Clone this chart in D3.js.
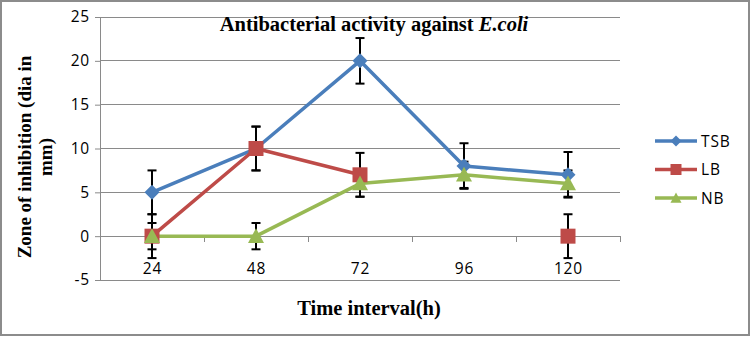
<!DOCTYPE html>
<html><head><meta charset="utf-8">
<script src="https://cdn.jsdelivr.net/npm/d3@7"></script>
<style>body{margin:0;background:#fff}svg{display:block}</style>
</head><body>
<script>
const categories = ["24", "48", "72", "96", "120"];
const tsbValues = [5, 10, 20, 8, 7];
const tsbErrors = [2.5, 2.5, 2.6, 2.6, 2.6];
const lbValues = [0, 10, 7, null, 0];
const lbErrors = [2.5, 2.5, 2.5, null, 2.5];
const nbValues = [0, 0, 6, 7, 6];
const nbErrors = [1.5, 1.5, 1.5, 1.5, 1.5];
const yTicks = [-5, 0, 5, 10, 15, 20, 25];
const seriesNames = ["TSB", "LB", "NB"];

(function () {
const W = 751, H = 337;
const sans = "'Open Sans', Lato, sans-serif";
const serif = "'Liberation Serif', 'Times New Roman', serif";
const svg = d3.select("body").append("svg").attr("width", W).attr("height", H);
svg.append("rect").attr("x", 1).attr("y", 1).attr("width", W - 3).attr("height", H - 3)
  .attr("fill", "#fff").attr("stroke", "#8c8c8c").attr("stroke-width", 2);

const pLeft = 100, pRight = 620, pTop = 17, pBottom = 280;
const x = d3.scaleBand().domain(categories).range([pLeft, pRight]);
const y = d3.scaleLinear().domain([-5, 25]).range([pBottom, pTop]);
const grid = "#8a8a8a";

// gridlines
svg.append("g").selectAll("line").data(yTicks).join("line")
  .attr("x1", pLeft).attr("x2", pRight).attr("y1", d => y(d)).attr("y2", d => y(d))
  .attr("stroke", grid).attr("stroke-width", 1).attr("shape-rendering", "crispEdges");
// y axis
const yAxis = d3.axisLeft(y).tickValues(yTicks).tickFormat(d => String(d)).tickSize(5).tickPadding(5);
const yg = svg.append("g").attr("transform", `translate(${pLeft},0)`).call(yAxis);
yg.select(".domain").attr("stroke", grid);
yg.selectAll(".tick line").attr("stroke", grid);
yg.selectAll("text").attr("font-family", sans).attr("font-size", 15.5).attr("letter-spacing", 0.8).attr("fill", "#000");

// x axis line at 0
svg.append("line").attr("x1", pLeft).attr("x2", pRight).attr("y1", y(0)).attr("y2", y(0))
  .attr("stroke", grid).attr("shape-rendering", "crispEdges");
const bounds = categories.map(c => x(c)).concat([pRight]);
svg.append("g").selectAll("line").data(bounds).join("line")
  .attr("x1", d => d).attr("x2", d => d).attr("y1", y(0)).attr("y2", y(0) + 6)
  .attr("stroke", grid).attr("shape-rendering", "crispEdges");
svg.append("g").selectAll("text").data(categories).join("text")
  .attr("x", d => x(d) + x.bandwidth() / 2 + 0.4).attr("y", 274)
  .attr("text-anchor", "middle").attr("font-family", sans).attr("letter-spacing", 0.8)
  .attr("font-size", 15.5).text(d => d);

const series = [
  {name: seriesNames[0], values: tsbValues, errors: tsbErrors, color: "#4a7ebb", marker: "diamond"},
  {name: seriesNames[1], values: lbValues, errors: lbErrors, color: "#be4b48", marker: "square"},
  {name: seriesNames[2], values: nbValues, errors: nbErrors, color: "#98b954", marker: "triangle"}
];
const cx = i => x(categories[i]) + x.bandwidth() / 2;

// error bars
const eg = svg.append("g");
series.forEach(s => {
  s.values.forEach((v, i) => {
    if (v == null || s.errors[i] == null) return;
    const hi = y(v + s.errors[i]), lo = y(v - s.errors[i]), c = cx(i);
    eg.append("line").attr("x1", c).attr("x2", c).attr("y1", hi).attr("y2", lo).attr("stroke", "#000").attr("stroke-width", 2);
    [hi, lo].forEach(yy => eg.append("line").attr("x1", c - 4.5).attr("x2", c + 4.5).attr("y1", yy).attr("y2", yy).attr("stroke", "#000").attr("stroke-width", 2));
  });
});

const line = d3.line().defined(d => d.v != null).x(d => cx(d.i)).y(d => y(d.v));
function markerPath(type, size) {
  const h = size / 2;
  if (type === "diamond") return `M0,${-h}L${h},0L0,${h}L${-h},0Z`;
  if (type === "square") return `M${-h},${-h}H${h}V${h}H${-h}Z`;
  return `M0,${-h}L${h},${h * 0.85}L${-h},${h * 0.85}Z`;
}
const sizes = {diamond: 15, square: 15, triangle: 16};
series.forEach(s => {
  const pts = s.values.map((v, i) => ({v, i}));
  svg.append("path").datum(pts).attr("d", line).attr("fill", "none")
    .attr("stroke", s.color).attr("stroke-width", 3.5).attr("stroke-linejoin", "round");
});
series.forEach(s => {
  svg.append("g").selectAll("path").data(s.values.map((v, i) => ({v, i})).filter(d => d.v != null)).join("path")
    .attr("transform", d => `translate(${cx(d.i)},${y(d.v)})`)
    .attr("d", markerPath(s.marker, sizes[s.marker])).attr("fill", s.color);
});

// legend
const lg = svg.append("g");
series.forEach((s, k) => {
  const ly = 141 + k * 28.5;
  lg.append("line").attr("x1", 655).attr("x2", 697).attr("y1", ly).attr("y2", ly).attr("stroke", s.color).attr("stroke-width", 3.5);
  lg.append("path").attr("transform", `translate(676,${ly})`).attr("d", markerPath(s.marker, 11)).attr("fill", s.color);
  lg.append("text").attr("x", 701).attr("y", ly + 5.5).attr("font-family", sans).attr("font-size", 15.5)
    .attr("letter-spacing", 0.9).text(s.name);
});

// title
const t = svg.append("text").attr("x", 374).attr("y", 31).attr("text-anchor", "middle")
  .attr("font-family", serif).attr("font-size", 20.5).attr("font-weight", "bold");
t.append("tspan").text("Antibacterial activity against ");
t.append("tspan").attr("font-style", "italic").text("E.coli");

// axis titles
svg.append("text").attr("x", 369).attr("y", 315).attr("text-anchor", "middle")
  .attr("font-family", serif).attr("font-size", 20.5).attr("font-weight", "bold")
  .text("Time interval(h)");
const yl = svg.append("text").attr("transform", "translate(31,157) rotate(-90)").attr("text-anchor", "middle")
  .attr("font-family", serif).attr("font-size", 19).attr("font-weight", "bold");
yl.append("tspan").attr("x", 0).attr("y", 0).text("Zone of inhibition (dia in");
yl.append("tspan").attr("x", 0).attr("y", 21).text("mm)");
})();
</script>
</body></html>
